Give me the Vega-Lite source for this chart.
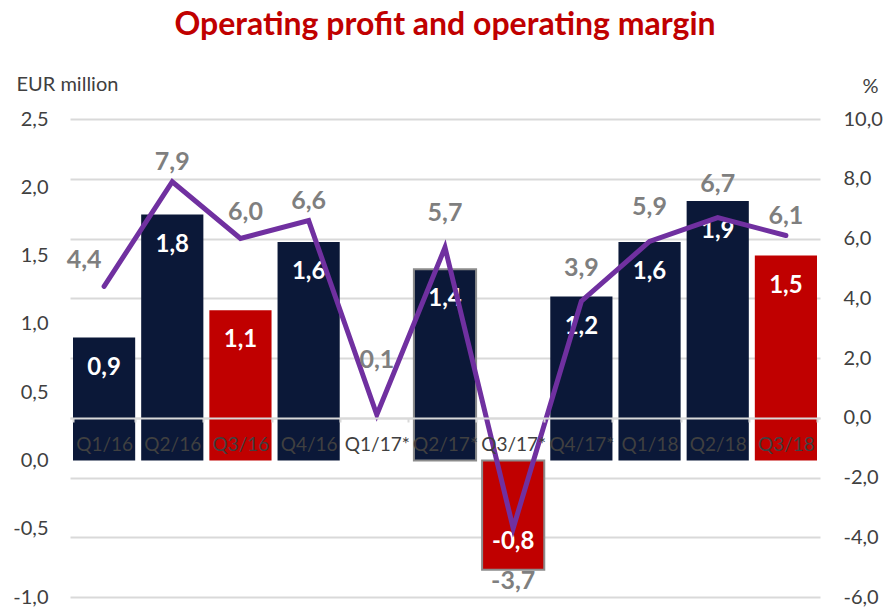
{
  "$schema": "https://vega.github.io/schema/vega-lite/v6.json",
  "autosize": {"type": "none"},
  "width": 750,
  "height": 478,
  "padding": {"left": 70, "top": 119, "right": 68, "bottom": 11},
  "background": "white",
  "config": {
    "locale": {"number": {"decimal": ",", "thousands": ".", "grouping": [3], "currency": ["", " €"], "minus": "-"}},
    "font": "Lato",
    "view": {"stroke": null},
    "axis": {"labelFont": "Lato", "titleFont": "Lato"}
  },
  "title": {
    "text": "Operating profit and operating margin",
    "font": "Lato",
    "fontSize": 32,
    "fontWeight": "bold",
    "color": "#C00000",
    "anchor": "middle",
    "baseline": "alphabetic",
    "offset": 7
  },
  "data": {
    "values": [
      {"period": "Q1/16", "profit": 0.9, "margin": 4.4},
      {"period": "Q2/16", "profit": 1.8, "margin": 7.9},
      {"period": "Q3/16", "profit": 1.1, "margin": 6.0},
      {"period": "Q4/16", "profit": 1.6, "margin": 6.6},
      {"period": "Q1/17*", "profit": 0.0, "margin": 0.1},
      {"period": "Q2/17*", "profit": 1.4, "margin": 5.7},
      {"period": "Q3/17*", "profit": -0.8, "margin": -3.7},
      {"period": "Q4/17*", "profit": 1.2, "margin": 3.9},
      {"period": "Q1/18", "profit": 1.6, "margin": 5.9},
      {"period": "Q2/18", "profit": 1.9, "margin": 6.7},
      {"period": "Q3/18", "profit": 1.5, "margin": 6.1}
    ]
  },
  "encoding": {
    "x": {
      "field": "period",
      "type": "nominal",
      "sort": null,
      "scale": {"paddingInner": 0.088, "paddingOuter": 0.044},
      "axis": {
        "title": null,
        "orient": "bottom",
        "offset": -179,
        "zindex": 1,
        "labelAngle": 0,
        "labelFont": "Lato",
        "labelFontSize": 19,
        "labelColor": "#404040",
        "labelPadding": 13,
        "domainColor": "#D9D9D9",
        "domainWidth": 2,
        "tickColor": "#D9D9D9",
        "tickWidth": 2,
        "tickSize": 4,
        "tickBand": "extent",
        "grid": false
      }
    }
  },
  "layer": [
    {
      "encoding": {
        "y": {
          "field": "profit",
          "type": "quantitative",
          "scale": {"domain": [-1, 2.5], "nice": false, "zero": false},
          "axis": {
            "orient": "left",
            "values": [-1, -0.5, 0, 0.5, 1, 1.5, 2, 2.5],
            "format": ".1f",
            "grid": false,
            "domain": false,
            "ticks": false,
            "tickSize": 0,
            "labelPadding": 22,
            "labelFontSize": 20,
            "labelColor": "#404040",
            "title": "EUR million",
            "titleAngle": 0,
            "titleAlign": "left",
            "titleBaseline": "middle",
            "titleX": -54,
            "titleY": -35,
            "titleFontSize": 20,
            "titleFontWeight": "normal",
            "titleColor": "#404040"
          }
        }
      },
      "layer": [
        {
          "mark": {"type": "bar"},
          "encoding": {
            "color": {
              "condition": {"test": "datum.period == 'Q3/16' || datum.period == 'Q3/17*' || datum.period == 'Q3/18'", "value": "#C00000"},
              "value": "#0B1838"
            },
            "stroke": {
              "condition": {"test": "datum.period == 'Q2/17*' || datum.period == 'Q3/17*'", "value": "#8C8C8C"},
              "value": null
            },
            "strokeWidth": {
              "condition": {"test": "datum.period == 'Q2/17*' || datum.period == 'Q3/17*'", "value": 2},
              "value": 0
            }
          }
        },
        {
          "transform": [{"filter": "datum.profit > 0"}],
          "mark": {"type": "text", "dy": 30, "font": "Lato", "fontSize": 24, "fontWeight": "bold", "color": "white", "baseline": "middle"},
          "encoding": {"text": {"field": "profit", "type": "quantitative", "format": ".1f"}}
        },
        {
          "transform": [{"filter": "datum.profit < 0"}],
          "mark": {"type": "text", "dy": -28, "font": "Lato", "fontSize": 24, "fontWeight": "bold", "color": "white", "baseline": "middle"},
          "encoding": {"text": {"field": "profit", "type": "quantitative", "format": ".1f"}}
        }
      ]
    },
    {
      "encoding": {
        "y": {
          "field": "margin",
          "type": "quantitative",
          "scale": {"domain": [-6, 10], "nice": false, "zero": false},
          "axis": {
            "orient": "right",
            "values": [-6, -4, -2, 0, 2, 4, 6, 8, 10],
            "format": ".1f",
            "grid": true,
            "gridColor": "#D9D9D9",
            "gridWidth": 2,
            "domain": false,
            "ticks": false,
            "tickSize": 0,
            "labelPadding": 23,
            "labelFontSize": 20,
            "labelColor": "#404040",
            "title": "%",
            "titleAngle": 0,
            "titleAlign": "right",
            "titleBaseline": "middle",
            "titleX": 58,
            "titleY": -33,
            "titleFontSize": 20,
            "titleFontWeight": "normal",
            "titleColor": "#404040"
          }
        }
      },
      "layer": [
        {
          "mark": {"type": "line", "color": "#7030A0", "strokeWidth": 5, "strokeCap": "round", "strokeJoin": "miter"}
        },
        {
          "transform": [{"filter": {"field": "period", "oneOf": ["Q2/16", "Q4/16", "Q3/18"]}}],
          "mark": {"type": "text", "dy": -20, "font": "Lato", "fontSize": 25, "fontWeight": "bold", "color": "#7F7F7F", "baseline": "middle"},
          "encoding": {"text": {"field": "margin", "type": "quantitative", "format": ".1f"}}
        },
        {
          "transform": [{"filter": {"field": "period", "oneOf": ["Q3/16"]}}],
          "mark": {"type": "text", "dx": 5, "dy": -27, "font": "Lato", "fontSize": 25, "fontWeight": "bold", "color": "#7F7F7F", "baseline": "middle"},
          "encoding": {"text": {"field": "margin", "type": "quantitative", "format": ".1f"}}
        },
        {
          "transform": [{"filter": {"field": "period", "oneOf": ["Q2/17*", "Q1/18", "Q2/18"]}}],
          "mark": {"type": "text", "dy": -34, "font": "Lato", "fontSize": 25, "fontWeight": "bold", "color": "#7F7F7F", "baseline": "middle"},
          "encoding": {"text": {"field": "margin", "type": "quantitative", "format": ".1f"}}
        },
        {
          "transform": [{"filter": {"field": "period", "equal": "Q1/16"}}],
          "mark": {"type": "text", "dx": -20, "dy": -26, "font": "Lato", "fontSize": 25, "fontWeight": "bold", "color": "#7F7F7F", "baseline": "middle"},
          "encoding": {"text": {"field": "margin", "type": "quantitative", "format": ".1f"}}
        },
        {
          "transform": [{"filter": {"field": "period", "equal": "Q4/17*"}}],
          "mark": {"type": "text", "dy": -33, "font": "Lato", "fontSize": 25, "fontWeight": "bold", "color": "#7F7F7F", "baseline": "middle"},
          "encoding": {"text": {"field": "margin", "type": "quantitative", "format": ".1f"}}
        },
        {
          "transform": [{"filter": {"field": "period", "equal": "Q1/17*"}}],
          "mark": {"type": "text", "dy": -55, "font": "Lato", "fontSize": 25, "fontWeight": "bold", "color": "#7F7F7F", "baseline": "middle"},
          "encoding": {"text": {"field": "margin", "type": "quantitative", "format": ".1f"}}
        },
        {
          "transform": [{"filter": {"field": "period", "equal": "Q3/17*"}}],
          "mark": {"type": "text", "dy": 53, "font": "Lato", "fontSize": 25, "fontWeight": "bold", "color": "#7F7F7F", "baseline": "middle"},
          "encoding": {"text": {"field": "margin", "type": "quantitative", "format": ".1f"}}
        }
      ]
    }
  ],
  "resolve": {"scale": {"y": "independent"}}
}
